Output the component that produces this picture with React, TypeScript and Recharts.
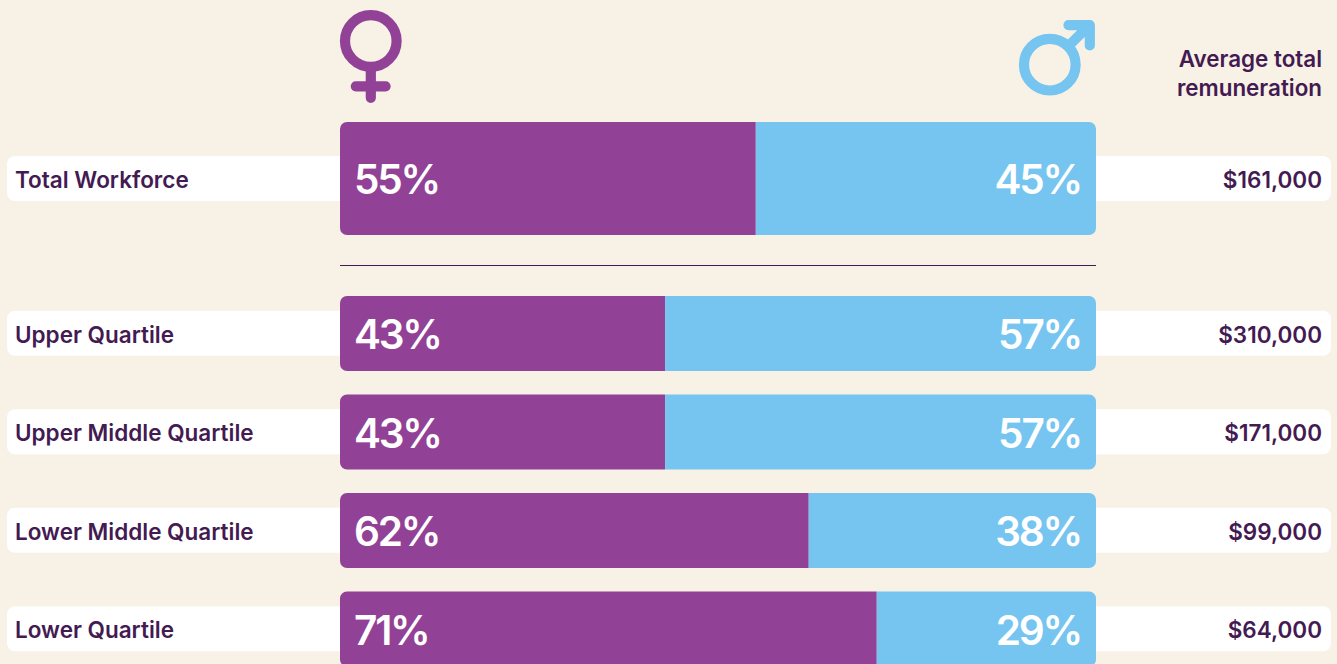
import React from "react";
import { BarChart, Bar, XAxis, YAxis, LabelList } from "recharts";

const totalCategories = ["Total Workforce"];
const totalFemale = [55];
const totalMale = [45];
const totalPay = ["$161,000"];

const quartileCategories = ["Upper Quartile", "Upper Middle Quartile", "Lower Middle Quartile", "Lower Quartile"];
const quartileFemale = [43, 43, 62, 71];
const quartileMale = [57, 57, 38, 29];
const quartilePay = ["$310,000", "$171,000", "$99,000", "$64,000"];

const FONT = "Inter, 'Noto Sans', sans-serif";
const BG = "#F8F1E5";
const PURPLE = "#914296";
const BLUE = "#75C5F0";
const INK = "#431A52";
const TEXT_SIZE = 22.5;
const PCT_SIZE = 40.5;

const rows = (cats: string[], f: number[], m: number[], p: string[]) =>
  cats.map((name, i) => ({ name, female: f[i], male: m[i], pay: p[i] }));

const LeftTick = (props: any) => {
  const { y, payload } = props;
  const x = 340, x0 = 7, h = 45, r = 8;
  const top = y - h / 2;
  return (
    <g>
      <path d={`M${x} ${top}H${x0 + r}A${r} ${r} 0 0 0 ${x0} ${top + r}V${top + h - r}A${r} ${r} 0 0 0 ${x0 + r} ${top + h}H${x}Z`} fill="#FFFFFF" />
      <text x={15} y={y + 1.5} dy="0.35em" fontFamily={FONT} fontSize={TEXT_SIZE} fontWeight={600} fill={INK}>{payload.value}</text>
    </g>
  );
};

const RightTick = (props: any) => {
  const { y, payload } = props;
  const x = 1096, x1 = 1331, h = 45, r = 8;
  const top = y - h / 2;
  return (
    <g>
      <path d={`M${x} ${top}H${x1 - r}A${r} ${r} 0 0 1 ${x1} ${top + r}V${top + h - r}A${r} ${r} 0 0 1 ${x1 - r} ${top + h}H${x}Z`} fill="#FFFFFF" />
      <text x={1322} y={y + 1.5} dy="0.35em" textAnchor="end" fontFamily={FONT} fontSize={TEXT_SIZE} fontWeight={600} fill={INK}>{payload.value}</text>
    </g>
  );
};

const pct = (v: any) => `${v}%`;

const Stack = ({ data, height, barSize, top }: { data: any[]; height: number; barSize: number; top: number }) => (
  <div style={{ position: "absolute", left: 0, top }}>
    <BarChart
      width={1337}
      height={height}
      data={data}
      layout="vertical"
      margin={{ top: 0, right: 0, bottom: 0, left: 0 }}
      barSize={barSize}
      barCategoryGap={0}
    >
      <XAxis type="number" domain={[0, 100]} hide />
      <YAxis yAxisId="left" type="category" dataKey="name" width={340} axisLine={false} tickLine={false} interval={0} tick={<LeftTick />} />
      <YAxis yAxisId="right" orientation="right" type="category" dataKey="pay" width={241} axisLine={false} tickLine={false} interval={0} tick={<RightTick />} />
      <Bar yAxisId="left" dataKey="female" stackId="a" fill={PURPLE} radius={[7, 0, 0, 7]} isAnimationActive={false}>
        <LabelList dataKey="female" position="insideLeft" offset={14} dy={1.5} formatter={pct} fill="#FFFFFF" fontFamily={FONT} fontSize={PCT_SIZE} fontWeight={600} letterSpacing={-2.2} />
      </Bar>
      <Bar yAxisId="left" dataKey="male" stackId="a" fill={BLUE} radius={[0, 7, 7, 0]} isAnimationActive={false}>
        <LabelList dataKey="male" position="insideRight" offset={15} dy={1.5} formatter={pct} fill="#FFFFFF" fontFamily={FONT} fontSize={PCT_SIZE} fontWeight={600} letterSpacing={-2.2} />
      </Bar>
    </BarChart>
  </div>
);

const Overlay = () => (
  <svg width={1337} height={270} style={{ position: "absolute", left: 0, top: 0, pointerEvents: "none" }}>
    <g fill="none" stroke={PURPLE} strokeWidth={10.2} strokeLinecap="round">
      <circle cx={370.8} cy={41} r={25.8} />
      <path d="M370.8 67V97.8M355.8 86.3H385.6" />
    </g>
    <g fill="none" stroke={BLUE} strokeWidth={10.2} strokeLinecap="round" strokeLinejoin="round">
      <circle cx={1049.8} cy={64.7} r={25.8} />
      <path d="M1068 46.5L1089.6 25M1068.5 25.2H1089.8V45.5" />
    </g>
    <line x1={340} x2={1096} y1={265.5} y2={265.5} stroke={INK} strokeWidth={1} />
    <g fontFamily={FONT} fontSize={22.4} fontWeight={600} fill={INK} textAnchor="end">
      <text x={1322} y={67}>Average total</text>
      <text x={1322} y={96}>remuneration</text>
    </g>
  </svg>
);

export default function App() {
  return (
    <div style={{ position: "fixed", left: 0, top: 0, width: 1337, height: 664, overflow: "hidden", background: BG }}>
      <Stack data={rows(totalCategories, totalFemale, totalMale, totalPay)} height={133} barSize={113} top={112} />
      <Stack data={rows(quartileCategories, quartileFemale, quartileMale, quartilePay)} height={394} barSize={75} top={284} />
      <Overlay />
    </div>
  );
}
